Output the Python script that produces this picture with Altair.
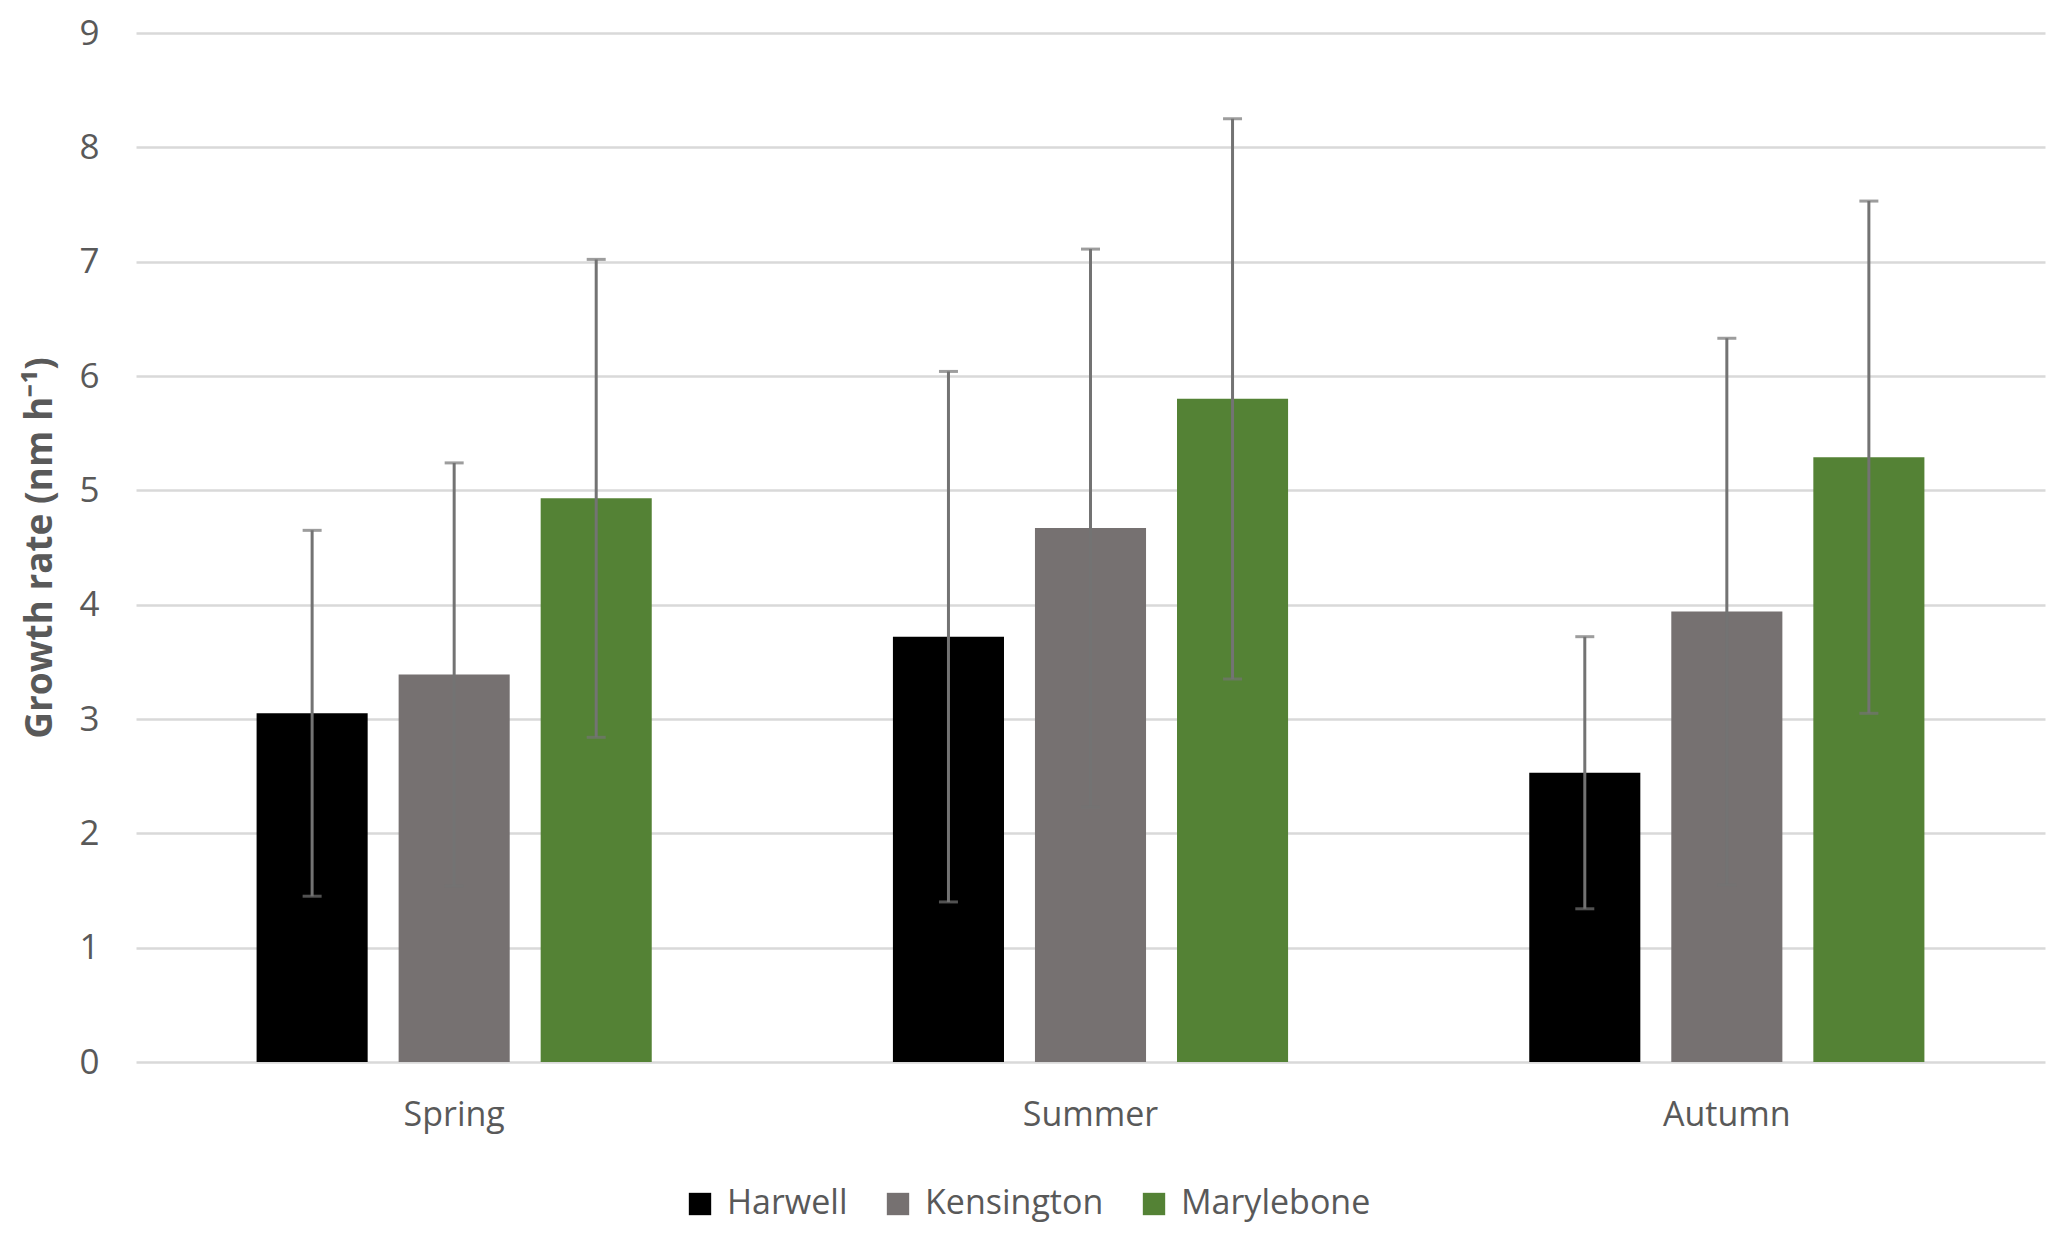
import altair as alt
import pandas as pd

seasons = ["Spring", "Summer", "Autumn"]
sites = ["Harwell", "Kensington", "Marylebone"]
harwell_mean = [3.05, 3.72, 2.53]
harwell_err = [1.60, 2.32, 1.19]
kensington_mean = [3.39, 4.67, 3.94]
kensington_err = [1.85, 2.44, 2.39]
marylebone_mean = [4.93, 5.80, 5.29]
marylebone_err = [2.09, 2.45, 2.24]
site_colors = ["#000000", "#767171", "#548235"]
y_ticks = [0, 1, 2, 3, 4, 5, 6, 7, 8, 9]

rows = []
for site, means, errs in zip(sites,
                             [harwell_mean, kensington_mean, marylebone_mean],
                             [harwell_err, kensington_err, marylebone_err]):
    for s, m, e in zip(seasons, means, errs):
        rows.append(dict(season=s, site=site, mean=m, low=m - e, high=m + e))
df = pd.DataFrame(rows)

FONT = "Open Sans"
TXT = "#595959"
W, H = 1909, 1029
FS = 34

x_enc = alt.X("season:N", sort=seasons,
              scale=alt.Scale(paddingInner=0, paddingOuter=0),
              axis=alt.Axis(title=None, labelAngle=0, ticks=False, tickSize=0,
                            domain=False, grid=False, labelPadding=53,
                            labelBaseline="middle",
                            labelFontSize=FS, labelColor=TXT, labelFont=FONT))
xo_enc = alt.XOffset("site:N", sort=sites,
                     scale=alt.Scale(paddingInner=0.218, paddingOuter=0.849))


def y_axis():
    return alt.Axis(values=y_ticks, title="Growth rate (nm h⁻¹)", ticks=False,
                    tickSize=0, domain=False, grid=True, gridColor="#d9d9d9",
                    gridWidth=2.5, labelPadding=37, labelFontSize=35,
                    labelColor=TXT, labelFont=FONT, titleFont=FONT,
                    titleFontSize=37, titleFontWeight="bold", titleColor=TXT,
                    titleX=-96, titleY=H / 2, titleAngle=270,
                    titleAlign="center", titleBaseline="middle")


y_scale = alt.Scale(domain=[0, 9], nice=False, zero=True)

bars = alt.Chart(df).mark_bar().encode(
    x=x_enc, xOffset=xo_enc,
    y=alt.Y("mean:Q", scale=y_scale, axis=y_axis()),
    color=alt.Color("site:N", sort=sites,
                    scale=alt.Scale(domain=sites, range=site_colors),
                    legend=alt.Legend(orient="none", legendX=547, legendY=1154,
                                      direction="horizontal", title=None,
                                      symbolType="square", symbolSize=500,
                                      symbolStrokeWidth=0, labelFontSize=FS,
                                      labelColor=TXT, labelFont=FONT,
                                      columnPadding=33, labelOffset=10,
                                      labelLimit=400)),
)

rules = alt.Chart(df).mark_rule(color="#737373", strokeWidth=3).encode(
    x=x_enc, xOffset=xo_enc,
    y=alt.Y("low:Q", scale=y_scale, axis=y_axis()),
    y2="high:Q",
)

caps_hi = alt.Chart(df).mark_tick(color="#737373", thickness=3, size=19,
                                  orient="horizontal").encode(
    x=x_enc, xOffset=xo_enc,
    y=alt.Y("high:Q", scale=y_scale, axis=y_axis()),
)
caps_lo = alt.Chart(df).mark_tick(color="#737373", thickness=3, size=19,
                                  orient="horizontal").encode(
    x=x_enc, xOffset=xo_enc,
    y=alt.Y("low:Q", scale=y_scale, axis=y_axis()),
)

chart = alt.layer(bars, rules, caps_hi, caps_lo).properties(
    width=W, height=H,
    autosize=alt.AutoSizeParams(type="none"),
    padding={"left": 128, "top": 25, "right": 14, "bottom": 173},
    background="white",
).configure_view(stroke=None)

chart.save("out.html", embed_options={"renderer": "svg", "actions": False})
